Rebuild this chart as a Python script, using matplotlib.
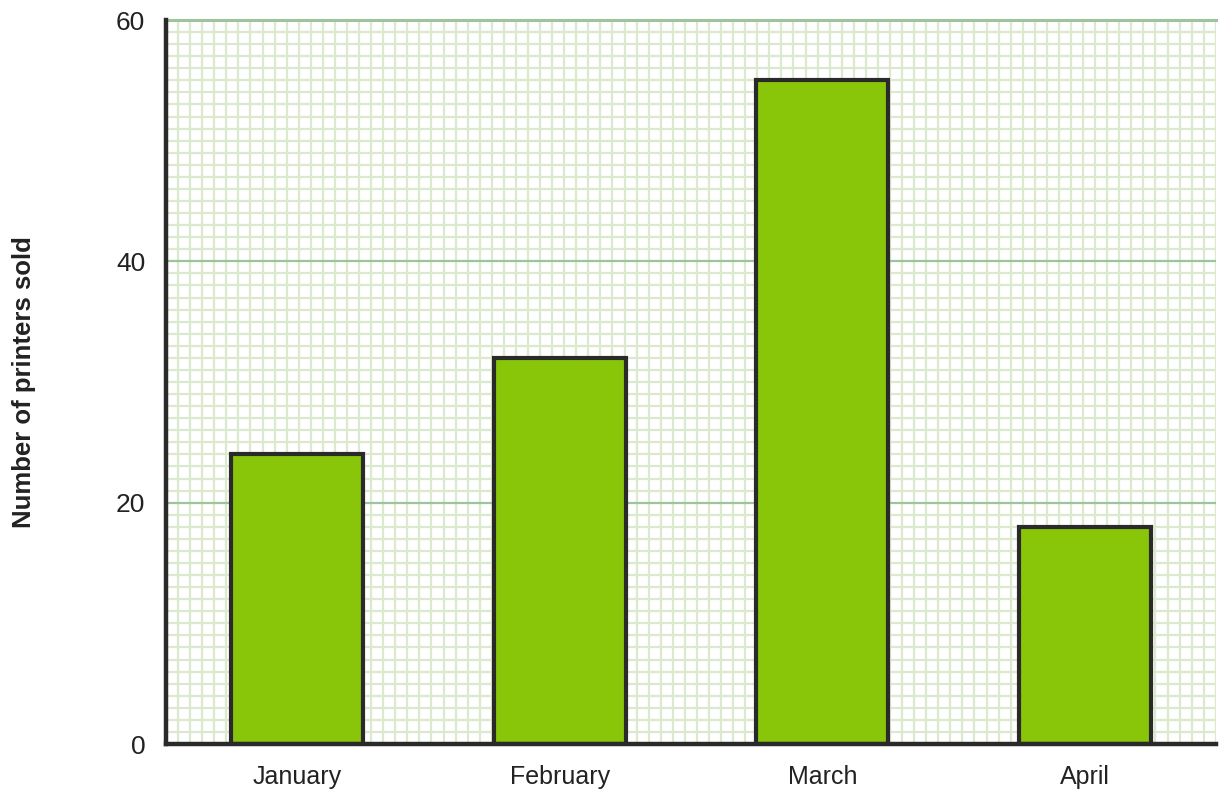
import matplotlib
matplotlib.use("Agg")
import matplotlib.pyplot as plt
import numpy as np

months = ["January", "February", "March", "April"]
printers_sold = [24, 32, 55, 18]
y_ticks = [0, 20, 40, 60]

plt.rcParams['font.family'] = ['Liberation Sans', 'DejaVu Sans']

fig = plt.figure(figsize=(12.28, 7.99), dpi=100)
ax = fig.add_axes([166/1228, 1-744/799, 1050/1228, 724/799])

x = np.arange(len(months))
ax.set_xlim(-0.5, 3.5)
ax.set_ylim(0, 60)

# minor grid (square cells)
ystep = 1.0
xstep = (724/60) / 262.5
ax.set_yticks(np.arange(0, 60.01, ystep), minor=True)
ax.set_xticks(np.arange(-0.5 + xstep, 3.5, xstep), minor=True)
ax.grid(True, which='minor', color='#dbeacf', linewidth=1.6, zorder=0)
ax.set_yticks(y_ticks)
ax.grid(True, which='major', axis='y', color='#9cc59c', linewidth=1.6, zorder=0.5)
ax.axhline(y_ticks[-1], color='#9cc59c', linewidth=2.2, clip_on=False, zorder=0.6)
ax.tick_params(which='minor', length=0)
ax.tick_params(which='major', length=0)
ax.set_axisbelow(True)

ax.bar(x, printers_sold, width=0.503, color='#89c609', edgecolor='#2a2a2a', linewidth=3, zorder=3)

ax.set_xticks(x)
ax.set_xticklabels(months, fontsize=18, color='#222222')
ax.set_yticklabels([str(v) for v in y_ticks], fontsize=19, color='#222222')
ax.tick_params(axis='x', pad=15)
ax.tick_params(axis='y', pad=15)

ax.set_ylabel("Number of printers sold", fontsize=18.5, fontweight='bold', color='#222222')
ax.yaxis.set_label_coords(-0.124, 0.5)

for s in ['top', 'right']:
    ax.spines[s].set_visible(False)
for s in ['left', 'bottom']:
    ax.spines[s].set_color('#2a2a2a')
    ax.spines[s].set_linewidth(3.2)
    ax.spines[s].set_zorder(4)

fig.savefig("out.png", dpi=100)
